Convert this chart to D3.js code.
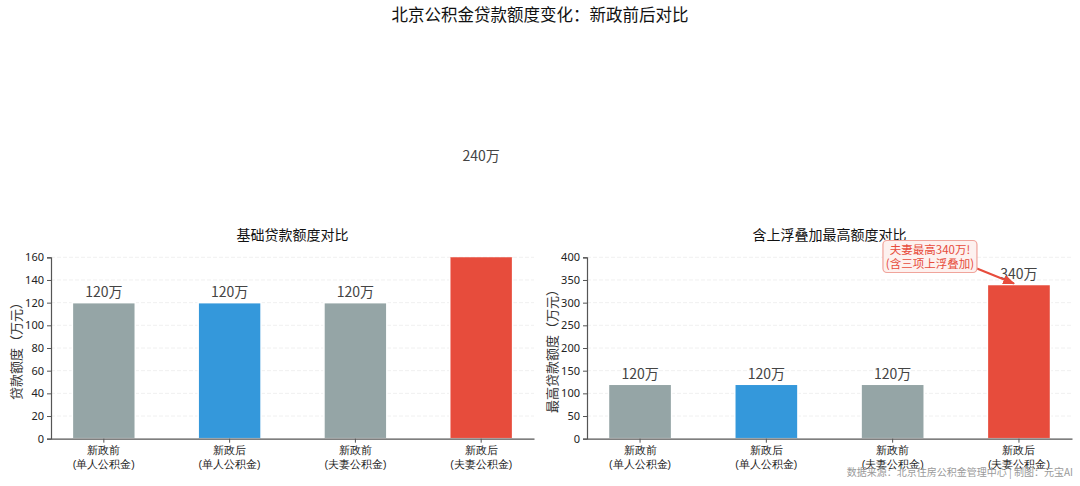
<!DOCTYPE html>
<html>
<head>
<meta charset="utf-8">
<script src="https://cdn.jsdelivr.net/npm/d3@7/dist/d3.min.js"></script>
<style>
  html, body { margin: 0; padding: 0; background: #ffffff; }
  svg { display: block; font-family: "Noto Sans CJK SC", "Noto Sans", sans-serif; }
</style>
</head>
<body>
<svg id="chart" width="1080" height="486"></svg>
<script>
// data
const categories = ["新政前\n(单人公积金)", "新政后\n(单人公积金)", "新政前\n(夫妻公积金)", "新政后\n(夫妻公积金)"];
const baseValues = [120, 120, 120, 240];
const maxValues = [120, 120, 120, 340];
const barColors = ["#95a5a6", "#3498db", "#95a5a6", "#e74c3c"];
const baseTicks = [0, 20, 40, 60, 80, 100, 120, 140, 160];
const maxTicks = [0, 50, 100, 150, 200, 250, 300, 350, 400];
const annotationLines = ["夫妻最高340万!", "(含三项上浮叠加)"];

const svg = d3.select("#chart");
const textColor = "#333333";
const axisColor = "#555555";

svg.append("text")
    .attr("x", 540)
    .attr("y", 21)
    .attr("text-anchor", "middle")
    .attr("font-size", "16.5")
    .attr("fill", "#111111")
    .text("北京公积金贷款额度变化：新政前后对比");

function fn_draw_panel(cfg) {
    const x = d3.scaleBand()
        .domain(d3.range(categories.length))
        .range([cfg.left, cfg.right])
        .paddingInner(0.5)
        .paddingOuter(0.17);
    const y = d3.scaleLinear()
        .domain([0, cfg.ymax])
        .range([cfg.bottom, cfg.top]);

    const g = svg.append("g").attr("class", "panel_" + cfg.id);

    // grid
    g.append("g")
        .selectAll("line")
        .data(cfg.ticks.slice(1))
        .join("line")
        .attr("x1", cfg.left)
        .attr("x2", cfg.right)
        .attr("y1", d => y(d))
        .attr("y2", d => y(d))
        .attr("stroke", "#ececec")
        .attr("stroke-width", "0.8")
        .attr("stroke-dasharray", "4,2");

    // clip for bars that go past the axis top
    svg.append("clipPath")
        .attr("id", "clip_" + cfg.id)
        .append("rect")
        .attr("x", cfg.left)
        .attr("y", cfg.top)
        .attr("width", cfg.right - cfg.left)
        .attr("height", cfg.bottom - cfg.top);

    g.append("g")
        .attr("clip-path", "url(#clip_" + cfg.id + ")")
        .selectAll("rect")
        .data(cfg.values)
        .join("rect")
        .attr("x", (d, i) => x(i))
        .attr("y", d => y(d))
        .attr("width", x.bandwidth())
        .attr("height", d => y(0) - y(d))
        .attr("fill", (d, i) => barColors[i])
        .attr("stroke", "#ffffff")
        .attr("stroke-width", "1.5");

    // value labels
    g.append("g")
        .selectAll("text")
        .data(cfg.values)
        .join("text")
        .attr("x", (d, i) => x(i) + x.bandwidth() / 2)
        .attr("y", d => y(d) - 5.5)
        .attr("text-anchor", "middle")
        .attr("font-size", "14")
        .attr("fill", "#444444")
        .text(d => d + "万");

    // y axis
    const gy = g.append("g")
        .attr("transform", "translate(" + cfg.left + ",0)")
        .call(d3.axisLeft(y).tickValues(cfg.ticks).tickSize(4).tickPadding(3));
    gy.select(".domain").attr("stroke", axisColor).attr("stroke-width", "1.2");
    gy.selectAll(".tick line").attr("stroke", axisColor);
    gy.selectAll(".tick text")
        .attr("font-size", "11")
        .attr("fill", "#222222")
        .style("font-family", "'Noto Sans', sans-serif");

    // x axis
    const gx = g.append("g")
        .attr("transform", "translate(0," + cfg.bottom + ")")
        .call(d3.axisBottom(x).tickSize(4).tickSizeOuter(0).tickFormat(""));
    gx.select(".domain").attr("stroke", axisColor).attr("stroke-width", "1.2");
    gx.selectAll(".tick line").attr("stroke", axisColor);
    gx.selectAll(".tick").each(function (d) {
        const lines = categories[d].split("\n");
        d3.select(this).selectAll("text.cat")
            .data(lines)
            .join("text")
            .classed("cat", true)
            .attr("x", 0)
            .attr("y", (l, k) => 15.5 + k * 13.5)
            .attr("text-anchor", "middle")
            .attr("font-size", "10.5")
            .attr("fill", "#222222")
            .text(l => l);
    });

    // axis label
    g.append("text")
        .attr("transform", "translate(" + cfg.labelX + "," + ((cfg.top + cfg.bottom) / 2) + ") rotate(-90)")
        .attr("text-anchor", "middle")
        .attr("dominant-baseline", "central")
        .attr("font-size", "13")
        .attr("fill", textColor)
        .text(cfg.ylabel);

    // title
    g.append("text")
        .attr("x", (cfg.left + cfg.right) / 2)
        .attr("y", cfg.top - 17)
        .attr("text-anchor", "middle")
        .attr("font-size", "14")
        .attr("fill", "#111111")
        .text(cfg.title);

    return { x: x, y: y, g: g };
}

const left = fn_draw_panel({
    id: "base", left: 51, right: 534, top: 257.3, bottom: 438.7,
    ymax: 160, ticks: baseTicks, values: baseValues,
    ylabel: "贷款额度（万元）", labelX: 15, title: "基础贷款额度对比"
});

const right = fn_draw_panel({
    id: "max", left: 587, right: 1072, top: 257.3, bottom: 438.7,
    ymax: 400, ticks: maxTicks, values: maxValues,
    ylabel: "最高贷款额度（万元）", labelX: 551, title: "含上浮叠加最高额度对比"
});

// annotation with arrow on the top bar of the right panel
const tipX = right.x(3) + right.x.bandwidth() / 2 - 5;
const tipY = right.y(maxValues[3]) - 1;
const boxCx = tipX - 84, boxCy = tipY - 27;
const boxW = 94, boxH = 32;

svg.append("defs").append("marker")
    .attr("id", "arrow_head")
    .attr("viewBox", "0 0 10 10")
    .attr("refX", 9)
    .attr("refY", 5)
    .attr("markerWidth", 6)
    .attr("markerHeight", 6)
    .attr("orient", "auto")
    .append("path")
    .attr("d", "M0,1 L10,5 L0,9 Z")
    .attr("fill", "#e74c3c");

svg.append("line")
    .attr("x1", boxCx + boxW / 2)
    .attr("y1", boxCy + 12)
    .attr("x2", tipX)
    .attr("y2", tipY)
    .attr("stroke", "#e74c3c")
    .attr("stroke-width", "2")
    .attr("marker-end", "url(#arrow_head)");

svg.append("rect")
    .attr("x", boxCx - boxW / 2)
    .attr("y", boxCy - boxH / 2)
    .attr("width", boxW)
    .attr("height", boxH)
    .attr("rx", 4)
    .attr("ry", 4)
    .attr("fill", "#fdf1ef")
    .attr("stroke", "#f0a49b")
    .attr("stroke-width", "1.2");

svg.append("g")
    .selectAll("text")
    .data(annotationLines)
    .join("text")
    .attr("x", boxCx)
    .attr("y", (d, i) => boxCy - 3 + i * 14)
    .attr("text-anchor", "middle")
    .attr("font-size", "11.5")
    .attr("fill", "#e74c3c")
    .text(d => d);

// footer
svg.append("text")
    .attr("x", 1073)
    .attr("y", 476)
    .attr("text-anchor", "end")
    .attr("font-size", "10")
    .attr("fill", "#9a9a9a")
    .text("数据来源：北京住房公积金管理中心 | 制图：元宝AI");
</script>
</body>
</html>
